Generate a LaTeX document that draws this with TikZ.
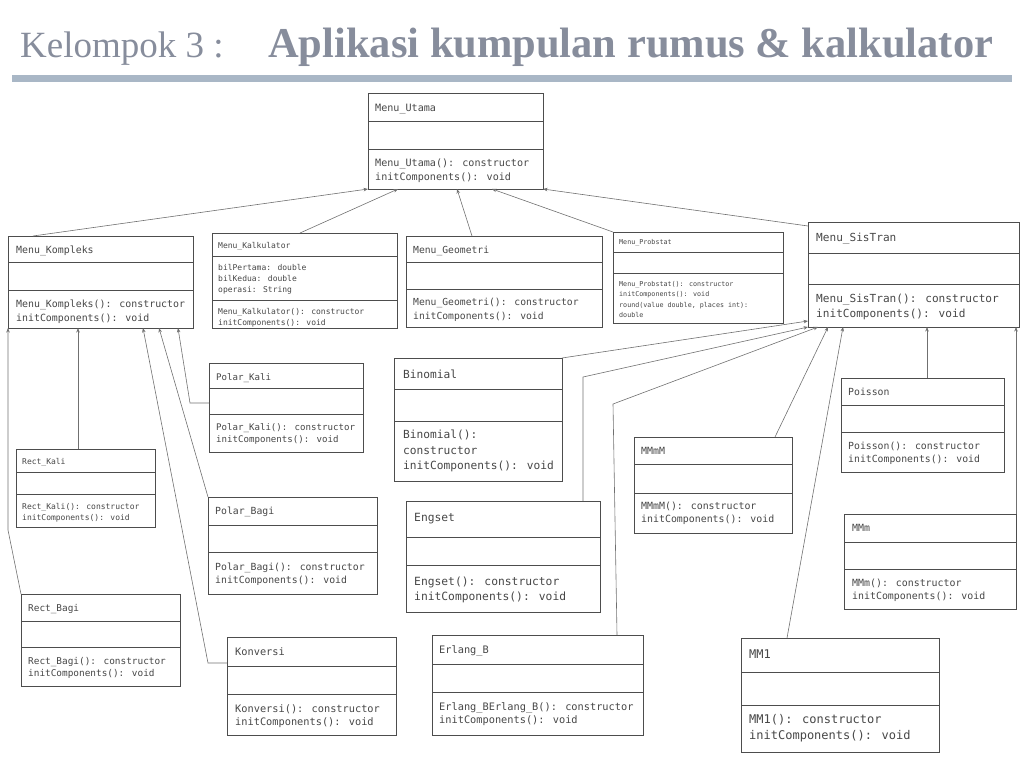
\documentclass[tikz,border=0pt]{standalone}
\usepackage{fontspec}
\usetikzlibrary{arrows.meta}
\newfontfamily\umono{DejaVu Sans Mono}
\newfontfamily\utitle{Liberation Serif}
\definecolor{txtc}{HTML}{474747}
\definecolor{boxc}{HTML}{4D4D4D}
\definecolor{linec}{HTML}{707070}
\definecolor{titlec}{HTML}{878D9C}
\definecolor{rulec}{HTML}{A9B7C6}
\tikzset{
 ubox/.style={draw=boxc, line width=0.9pt, inner sep=0pt, outer sep=0pt, fill=white},
 udiv/.style={draw=boxc, line width=0.9pt},
 ut/.style={anchor=west, inner sep=0pt, yshift=-1.2pt, text=txtc, font=\umono\fontsize{#1pt}{#1pt}\selectfont},
 conn/.style={draw=linec, line width=0.6pt, -{Stealth[length=4.5pt,width=3.5pt]}},
}
% class box: name, x1, y1, x2, y2, divider1, divider2
\newcommand\ucls[7]{%
 \node[ubox, minimum width={(#4-#2)*1pt}, minimum height={(#5-#3)*1pt}] (#1) at ({(#2+#4)/2},{(#3+#5)/2}) {};
 \draw[udiv] (#2,#6) -- (#4,#6) (#2,#7) -- (#4,#7);
}
% text line: name, x, y, size, text
\newcommand\utx[5]{\node[ut=#4] (#1) at (#2,#3) {\strut #5};}
\begin{document}
\begin{tikzpicture}[x=1pt,y=-1pt]
\useasboundingbox (0,0) rectangle (1024,768);
% title
\node[anchor=base west, inner sep=0pt, text=titlec, font=\utitle\fontsize{37}{37}\selectfont] (kel) at (20,57) {Kelompok 3 :};
\node[anchor=base west, inner sep=0pt, text=titlec, font=\utitle\bfseries\fontsize{42.5}{42.5}\selectfont] (app) at (268,57) {Aplikasi kumpulan rumus \& kalkulator};
\fill[rulec] (12,75) rectangle (1012,82);

% classes
\ucls{utama}{368}{93}{543}{189}{121}{149}
\utx{utama-t}{375}{108}{10.1}{Menu\_Utama}
\utx{utama-m1}{375}{163}{10.1}{Menu\_Utama(): constructor}
\utx{utama-m2}{375}{177}{10.1}{initComponents(): void}

\ucls{kompleks}{8}{236}{193}{328}{262}{290}
\utx{kompleks-t}{16}{250}{9.9}{Menu\_Kompleks}
\utx{kompleks-m1}{16}{304}{9.9}{Menu\_Kompleks(): constructor}
\utx{kompleks-m2}{16}{318}{9.9}{initComponents(): void}

\ucls{kalk}{212}{233}{397}{328}{256}{300}
\utx{kalk-t}{218}{245}{8}{Menu\_Kalkulator}
\utx{kalk-a1}{218}{267}{8}{bilPertama: double}
\utx{kalk-a2}{218}{278}{8}{bilKedua: double}
\utx{kalk-a3}{218}{289}{8}{operasi: String}
\utx{kalk-m1}{218}{311}{8}{Menu\_Kalkulator(): constructor}
\utx{kalk-m2}{218}{322}{8}{initComponents(): void}

\ucls{geom}{406}{236}{602}{327}{262}{289}
\utx{geom-t}{413}{250}{9.7}{Menu\_Geometri}
\utx{geom-m1}{413}{302}{9.7}{Menu\_Geometri(): constructor}
\utx{geom-m2}{413}{316}{9.7}{initComponents(): void}

\ucls{prob}{613}{232}{783}{323}{252}{273}
\utx{prob-t}{619}{242}{6.7}{Menu\_Probstat}
\utx{prob-m1}{619}{284}{6.7}{Menu\_Probstat(): constructor}
\utx{prob-m2}{619}{294}{6.7}{initComponents(): void}
\utx{prob-m3}{619}{304.5}{6.7}{round(value double, places int):}
\utx{prob-m4}{619}{315}{6.7}{double}

\ucls{sis}{808}{222}{1019}{327}{253}{284}
\utx{sis-t}{816}{238}{11.1}{Menu\_SisTran}
\utx{sis-m1}{816}{299}{11.1}{Menu\_SisTran(): constructor}
\utx{sis-m2}{816}{314}{11.1}{initComponents(): void}

\ucls{pkali}{209}{363}{363}{452}{388}{414}
\utx{pkali-t}{216}{377}{9.1}{Polar\_Kali}
\utx{pkali-m1}{216}{427}{9.1}{Polar\_Kali(): constructor}
\utx{pkali-m2}{216}{439}{9.1}{initComponents(): void}

\ucls{rkali}{16}{449}{155}{527}{472}{494}
\utx{rkali-t}{22}{461}{8}{Rect\_Kali}
\utx{rkali-m1}{22}{506}{8}{Rect\_Kali(): constructor}
\utx{rkali-m2}{22}{517}{8}{initComponents(): void}

\ucls{pbagi}{208}{497}{377}{594}{525}{552}
\utx{pbagi-t}{215}{511}{9.8}{Polar\_Bagi}
\utx{pbagi-m1}{215}{567}{9.8}{Polar\_Bagi(): constructor}
\utx{pbagi-m2}{215}{580}{9.8}{initComponents(): void}

\ucls{rbagi}{21}{594}{180}{686}{621}{647}
\utx{rbagi-t}{28}{608}{9.4}{Rect\_Bagi}
\utx{rbagi-m1}{28}{661}{9.4}{Rect\_Bagi(): constructor}
\utx{rbagi-m2}{28}{673}{9.4}{initComponents(): void}

\ucls{konv}{227}{637}{396}{735}{666}{694}
\utx{konv-t}{235}{652}{10.3}{Konversi}
\utx{konv-m1}{235}{709}{10.3}{Konversi(): constructor}
\utx{konv-m2}{235}{722}{10.3}{initComponents(): void}

\ucls{binom}{394}{358}{562}{481}{389}{421}
\utx{binom-t}{403}{375}{11.2}{Binomial}
\utx{binom-m1}{403}{435}{11.2}{Binomial():}
\utx{binom-m2}{403}{451}{11.2}{constructor}
\utx{binom-m3}{403}{466}{11.2}{initComponents(): void}

\ucls{engset}{406}{501}{600}{612}{537}{565}
\utx{engset-t}{414}{518}{11.3}{Engset}
\utx{engset-m1}{414}{582}{11.3}{Engset(): constructor}
\utx{engset-m2}{414}{597}{11.3}{initComponents(): void}

\ucls{mmmm}{634}{437}{792}{533}{464}{493}
\utx{mmmm-t}{641}{451}{9.9}{MMmM}
\utx{mmmm-m1}{641}{506}{9.9}{MMmM(): constructor}
\utx{mmmm-m2}{641}{519}{9.9}{initComponents(): void}

\ucls{poisson}{841}{378}{1004}{472}{405}{432}
\utx{poisson-t}{848}{392}{9.8}{Poisson}
\utx{poisson-m1}{848}{446}{9.8}{Poisson(): constructor}
\utx{poisson-m2}{848}{459}{9.8}{initComponents(): void}

\ucls{mmm}{844}{514}{1016}{609}{542}{569}
\utx{mmm-t}{852}{528}{9.9}{MMm}
\utx{mmm-m1}{852}{583}{9.9}{MMm(): constructor}
\utx{mmm-m2}{852}{596}{9.9}{initComponents(): void}

\ucls{erlang}{432}{635}{643}{735}{664}{692}
\utx{erlang-t}{439}{650}{10.3}{Erlang\_B}
\utx{erlang-m1}{439}{707}{10.3}{Erlang\_BErlang\_B(): constructor}
\utx{erlang-m2}{439}{720}{10.3}{initComponents(): void}

\ucls{mm1}{741}{638}{939}{752}{672}{705}
\utx{mm1-t}{749}{655}{12}{MM1}
\utx{mm1-m1}{749}{720}{12}{MM1(): constructor}
\utx{mm1-m2}{749}{736}{12}{initComponents(): void}

% bend points
\coordinate (b1) at (8,530);
\coordinate (b2) at (208,663);
\coordinate (b3) at (190,403);
\coordinate (b4) at (583,377);
\coordinate (b5) at (613,404);

% connectors to Menu_Utama
\draw[conn] ([xshift=25pt]kompleks.north west) -- (utama.south west);
\draw[conn] ([xshift=88pt]kalk.north west) -- ([xshift=30pt]utama.south west);
\draw[conn] ([xshift=66pt]geom.north west) -- ([xshift=89pt]utama.south west);
\draw[conn] (prob.north west) -- ([xshift=124pt]utama.south west);
\draw[conn] ([yshift=-4pt]sis.north west) -- (utama.south east);

% connectors to Menu_Kompleks
\draw[conn] (rbagi.north west) -- (b1) -- (kompleks.south west);
\draw[conn] ([xshift=62pt]rkali.north west) -- ([xshift=62pt]rkali.north west |- kompleks.south);
\draw[conn] ([yshift=23pt]konv.west) -- (b2) -- ([xshift=135pt]kompleks.south west);
\draw[conn] (pbagi.north west) -- ([xshift=151pt]kompleks.south west);
\draw[conn] ([yshift=4.5pt]pkali.west) -- (b3) -- ([xshift=170pt]kompleks.south west);

% connectors to Menu_SisTran
\draw[conn] (binom.north east) -- ([yshift=6pt]sis.south west);
\draw[conn] ([xshift=177pt]engset.north west) -- (b4) -- (sis.south west);
\draw[conn] ([xshift=185pt]erlang.north west) -- (b5) -- ([xshift=10pt]sis.south west);
\draw[conn] ([xshift=141pt]mmmm.north west) -- ([xshift=20pt]sis.south west);
\draw[conn] ([xshift=46pt]mm1.north west) -- ([xshift=35pt]sis.south west);
\draw[conn] ([xshift=86pt]poisson.north west) -- ([xshift=86pt]poisson.north west |- sis.south);
\draw[conn] (mmm.north east) -- (mmm.north east |- sis.south);
\end{tikzpicture}
\end{document}
